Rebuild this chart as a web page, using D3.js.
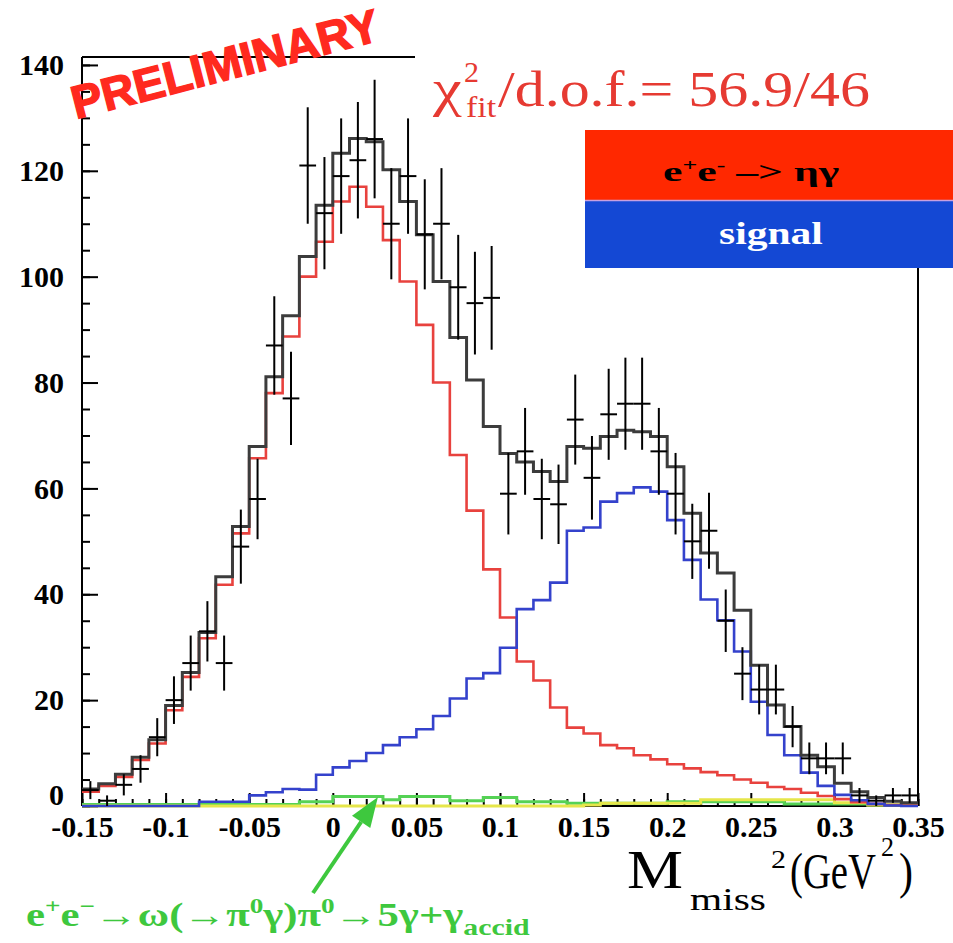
<!DOCTYPE html>
<html>
<head>
<meta charset="utf-8">
<script src="https://cdn.jsdelivr.net/npm/d3@7"></script>
<style>
  body { margin: 0; background: #fff; }
</style>
</head>
<body>
<div id="chart"></div>
<script>
// bin edges of M_miss^2 (GeV^2), 0.01 wide
const binEdges = [-0.15,-0.14,-0.13,-0.12,-0.11,-0.10,-0.09,-0.08,-0.07,-0.06,-0.05,-0.04,-0.03,-0.02,-0.01,
  0.00,0.01,0.02,0.03,0.04,0.05,0.06,0.07,0.08,0.09,0.10,0.11,0.12,0.13,0.14,0.15,0.16,0.17,0.18,0.19,
  0.20,0.21,0.22,0.23,0.24,0.25,0.26,0.27,0.28,0.29,0.30,0.31,0.32,0.33,0.34,0.35];

// data points and their errors
const dataCounts = [3,1,4,7,13,20,27,33,27,49, 58,87,77,121,112,119,122,126,110,119,
  108,110,98,95,96,59,67,58,57,73, 62,74,76,76,67,59,50,52,35,25, 22,22,15,9,9,9,2,1,2,2];
const dataErr = [1.7,1,2,2.6,3.6,4.5,5.2,5.7,5.2,7, 7.6,9.3,8.8,11,10.6,10.9,11,11.2,10.5,10.9,
  10.4,10.5,9.9,9.7,9.8,7.7,8.2,7.6,7.5,8.5, 7.9,8.6,8.7,8.7,8.2,7.7,7.1,7.2,5.9,5, 4.7,4.7,3.9,3,3,3,1.4,1,1.4,1.4];

// fitted components
const etaGamma = [2.7,3.8,5.5,8.7,11.8,18.1,24.4,31.7,41.8,51.5, 65.7,78.0,88.7,100.0,106.6,114.2,117.0,113.2,106.9,99.1,
  90.9,80.0,66.3,55.8,44.7,35.6,27.3,23.7,18.6,14.8, 13.7,11.5,10.9,9.6,8.8,7.9,7.1,6.4,5.8,5.0, 4.4,3.6,3.2,2.5,1.9,1.3,0.7,0.4,0.2,0.1];
const signal = [0,0,0,0,0,0,0,0.8,0.8,0.8, 2.0,2.6,3.2,3.1,5.9,7.3,8.5,10.0,11.5,13.0,
  14.5,17.0,20.3,24.1,25.1,29.9,37.2,38.9,42.2,52.0, 52.6,57.5,59.1,60.2,59.4,54.0,46.5,39.0,35.1,29.2, 19.7,13.4,9.6,6.3,3.8,2.1,1.1,0.4,0.1,0];
const omegaPi0 = [0.3,0.3,0.3,0.3,0.3,0.3,0.3,0.3,0.3,0.3, 0.3,0.3,0.3,0.8,0.8,1.8,1.8,1.8,1.2,1.8,
  1.8,1.8,1.0,1.0,1.6,1.6,0.8,0.8,0.8,0.5, 0.5,0.5,0.5,0.5,0.5,0.8,0.8,0.8,0.8,0.8, 0.8,0.8,0.4,0.4,0.4,0.4,0.4,0.2,0.2,0.2];
const otherBkg = [0,0,0,0,0,0,0,0,0,0, 0,0,0,0,0,0,0,0,0,0, 0,0,0,0,0,0,0,0,0,0,
  0.2,0.5,0.5,0.5,0.5,0.5,0.5,1.2,1.2,1.2, 1.2,1.2,1.2,1.2,1.2,0.6,0.6,0.2,0.2,0.2];
const totalFit = [3.2,4.2,6.0,9.2,12.5,19.0,25.2,32.8,43.3,52.8, 67.9,81.1,92.6,103.8,113.5,123.3,126.1,125.5,120.2,114.2,
  107.9,99.1,88.5,80.5,71.7,66.6,65.0,63.2,61.3,67.9, 67.6,69.8,71.0,70.7,69.8,64.1,55.3,47.8,44.0,37.0, 26.6,19.1,15.0,9.6,7.4,4.3,2.7,1.6,0.9,0.6];

// ticks
const xTicks = [-0.15,-0.1,-0.05,0,0.05,0.1,0.15,0.2,0.25,0.3,0.35];
const xTickLabels = ["-0.15","-0.1","-0.05","0","0.05","0.1","0.15","0.2","0.25","0.3","0.35"];
const yTicks = [0,20,40,60,80,100,120,140];
const yTickLabels = ["0","20","40","60","80","100","120","140"];

const margin = {top: 57, right: 35, bottom: 137, left: 82},
    width = 953 - margin.left - margin.right,
    height = 943 - margin.top - margin.bottom;

const serif = "'Liberation Serif', 'Times New Roman', serif";

const svg = d3.select("#chart")
  .append("svg")
    .attr("width", 953)
    .attr("height", 943)
    .style("font-family", serif);

const g = svg.append("g")
    .attr("transform", `translate(${margin.left}, ${margin.top})`);

const x = d3.scaleLinear().domain([-0.15, 0.35]).range([0, width]);
const y = d3.scaleLinear().domain([0, 141.5]).range([height, 0]);

// axes, ROOT style: ticks pointing inward
const xMinor = g.append("g")
    .attr("transform", `translate(0, ${height})`)
    .call(d3.axisBottom(x).tickValues(binEdges).tickSize(-7).tickSizeOuter(0).tickFormat(""));
const xMajor = g.append("g")
    .attr("transform", `translate(0, ${height})`)
    .call(d3.axisBottom(x).tickValues(xTicks).tickSize(-13).tickSizeOuter(0).tickPadding(10)
      .tickFormat((d, i) => xTickLabels[i]));
const yMinor = g.append("g")
    .call(d3.axisLeft(y).tickValues(d3.range(0, 141, 5)).tickSize(-8).tickSizeOuter(0).tickFormat(""));
const yMajor = g.append("g")
    .call(d3.axisLeft(y).tickValues(yTicks).tickSize(-16).tickSizeOuter(0).tickPadding(18)
      .tickFormat((d, i) => yTickLabels[i]));

[xMinor, xMajor, yMinor, yMajor].forEach(a => {
  a.attr("font-family", null);
  a.select(".domain").remove();
  a.selectAll("line").attr("stroke", "#000").attr("stroke-width", 2);
  a.selectAll("text")
    .style("font-family", serif)
    .style("font-weight", "bold")
    .style("font-size", "30px")
    .attr("fill", "#000");
});
// the zero label sits a little higher, clear of "-0.15"
yMajor.selectAll("text").filter(d => d === 0).attr("dy", "-0.06em");

// frame lines (upper-right part is hidden behind the labels)
g.append("line").attr("x1", 0).attr("x2", 0).attr("y1", 0).attr("y2", height)
  .attr("stroke", "#000").attr("stroke-width", 2);
g.append("line").attr("x1", 0).attr("x2", width).attr("y1", height).attr("y2", height)
  .attr("stroke", "#000").attr("stroke-width", 2);
g.append("line").attr("x1", 0).attr("x2", 333).attr("y1", 0).attr("y2", 0)
  .attr("stroke", "#000").attr("stroke-width", 2);
g.append("line").attr("x1", width).attr("x2", width).attr("y1", 211).attr("y2", height)
  .attr("stroke", "#000").attr("stroke-width", 2);

// histograms
function steps(vals) {
  const pts = vals.map((v, i) => [binEdges[i], v]);
  pts.push([binEdges[vals.length], vals[vals.length - 1]]);
  return d3.line()
    .x(d => x(d[0]))
    .y(d => y(d[1]))
    .curve(d3.curveStepAfter)(pts);
}

const hists = [
  {vals: omegaPi0, color: "#55d255", w: 3},
  {vals: otherBkg, color: "#e6e64a", w: 3},
  {vals: etaGamma, color: "#e8423e", w: 2.6},
  {vals: signal, color: "#3442cc", w: 2.6},
  {vals: totalFit, color: "#3c3c3c", w: 3}
];
g.append("g").selectAll("path")
  .data(hists)
  .join("path")
    .attr("d", d => steps(d.vals))
    .attr("fill", "none")
    .attr("stroke", d => d.color)
    .attr("stroke-width", d => d.w);

// data points with error bars
const pts = g.append("g").selectAll("g")
  .data(dataCounts)
  .join("g");
pts.append("line")
    .attr("x1", (d, i) => x(binEdges[i]))
    .attr("x2", (d, i) => x(binEdges[i + 1]))
    .attr("y1", d => y(d))
    .attr("y2", d => y(d))
    .attr("stroke", "#000").attr("stroke-width", 2);
pts.append("line")
    .attr("x1", (d, i) => x((binEdges[i] + binEdges[i + 1]) / 2))
    .attr("x2", (d, i) => x((binEdges[i] + binEdges[i + 1]) / 2))
    .attr("y1", (d, i) => y(Math.max(0, d - dataErr[i])))
    .attr("y2", (d, i) => y(d + dataErr[i]))
    .attr("stroke", "#000").attr("stroke-width", 2);

// stretch a text element horizontally to a target width
function fitWidth(sel, x0, w) {
  const bw = sel.node().getBBox().width;
  sel.attr("transform", `translate(${x0},0) scale(${w / bw},1) translate(${-x0},0)`);
}

// one piece of text, scaled to a given width
function label(px, py, txt, size, w, opts = {}) {
  const t = svg.append("text")
      .attr("x", px).attr("y", py)
      .style("font-family", opts.family || serif)
      .style("font-weight", opts.weight || "normal")
      .style("font-size", size + "px")
      .attr("fill", opts.fill || "#000")
      .text(txt);
  if (w) fitWidth(t, px, w);
  return t;
}

// PRELIMINARY stamp
svg.append("text")
    .attr("transform", "translate(76,119) rotate(-14.5)")
    .style("font-family", "'Liberation Sans', Arial, sans-serif")
    .style("font-weight", "bold")
    .style("font-size", "46px")
    .attr("fill", "#ff2a1f")
    .attr("stroke", "#ff2a1f").attr("stroke-width", 1.5)
    .attr("textLength", 316).attr("lengthAdjust", "spacingAndGlyphs")
    .text("PRELIMINARY");

// chi2 label
const red = "#e63a32";
label(433, 106, "χ", 52, 30, {fill: red});
label(464, 82, "2", 30, 15, {fill: red});
label(466, 117, "fit", 30, 31, {fill: red});
label(498, 106, "/d.o.f.= 56.9/46", 50, 372, {fill: red});

// legend boxes
svg.append("rect").attr("x", 585).attr("y", 130).attr("width", 368).attr("height", 70).attr("fill", "#ff2800");
svg.append("rect").attr("x", 585).attr("y", 201).attr("width", 368).attr("height", 67).attr("fill", "#1448d4");
svg.append("line").attr("x1", 585).attr("x2", 953).attr("y1", 200.5).attr("y2", 200.5)
  .attr("stroke", "#c8a0e0").attr("stroke-width", 1.5);

const leg1 = svg.append("text")
    .attr("x", 663).attr("y", 181)
    .style("font-family", serif)
    .style("font-size", "27px").style("font-weight", "bold")
    .attr("fill", "#000");
leg1.append("tspan").text("e");
leg1.append("tspan").attr("dy", -10).style("font-size", "16px").text("+");
leg1.append("tspan").attr("dy", 10).text("e");
leg1.append("tspan").attr("dy", -10).style("font-size", "16px").text("-");
leg1.append("tspan").attr("dy", 10).text(" –> ηγ");
fitWidth(leg1, 663, 177);

label(719, 244, "signal", 32, 104, {weight: "bold", fill: "#fff"});

// x-axis title
label(627, 888, "M", 54, 56);
label(690, 910, "miss", 32, 76);
label(771, 868, "2", 26, 15);
label(790, 888, "(GeV", 50, 86);
label(881, 856, "2", 28, 13);
label(899, 888, ")", 50, 14);

// green annotation with arrow
const green = "#3ec83e";
const annParts = [
  {t: "e"}, {t: "+", sup: true}, {t: "e"}, {t: "−", sup: true},
  {t: "→ω(→π"}, {t: "0", sup: true},
  {t: "γ)π"}, {t: "0", sup: true}, {t: "→5γ+γ"}, {t: "accid", sub: true}
];
const ann = svg.append("text")
    .attr("x", 26).attr("y", 926)
    .style("font-size", "33px").style("font-weight", "bold")
    .style("font-family", serif)
    .attr("fill", green);
let shift = 0;
annParts.forEach(p => {
  const want = p.sup ? -13 : p.sub ? 9 : 0;
  const ts = ann.append("tspan").attr("dy", want - shift).text(p.t);
  shift = want;
  if (p.sup) ts.style("font-size", "21px");
  if (p.sub) ts.style("font-size", "23px");
});
fitWidth(ann, 26, 504);

const tipX = margin.left + x(0.027), tipY = margin.top + y(1.7);
const startX = 313, startY = 893;
const ang = Math.atan2(tipY - startY, tipX - startX);
const hl = 30, hw = 11;
const bx = tipX - hl * Math.cos(ang), by = tipY - hl * Math.sin(ang);
svg.append("line")
    .attr("x1", startX).attr("y1", startY).attr("x2", bx).attr("y2", by)
    .attr("stroke", green).attr("stroke-width", 4);
svg.append("path")
    .attr("d", d3.line()([
      [tipX, tipY],
      [bx + hw * Math.sin(ang), by - hw * Math.cos(ang)],
      [bx - hw * Math.sin(ang), by + hw * Math.cos(ang)]
    ]) + "Z")
    .attr("fill", green);
</script>
</body>
</html>
